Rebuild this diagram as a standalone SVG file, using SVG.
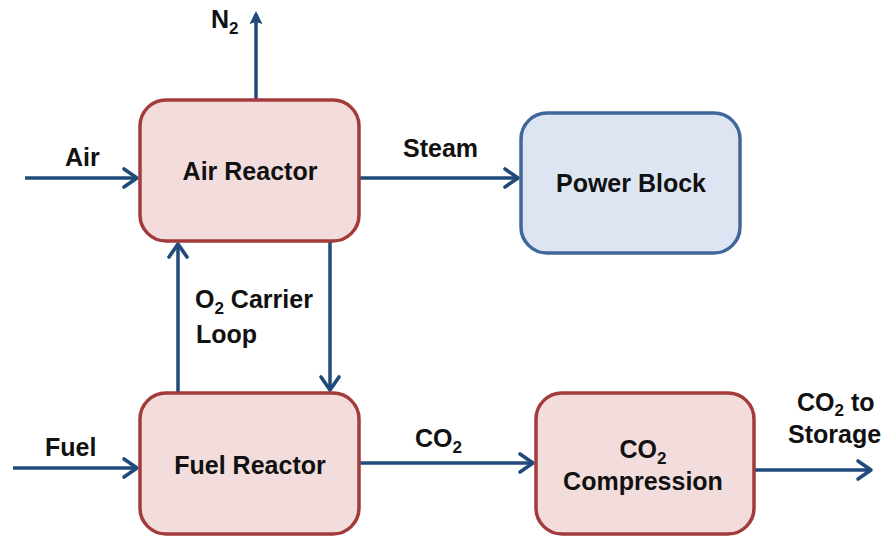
<svg xmlns="http://www.w3.org/2000/svg" width="883" height="536" viewBox="0 0 883 536">
<defs>
<marker id="ah" viewBox="-3 -3 20 24" refX="14" refY="9" markerWidth="20" markerHeight="24" markerUnits="userSpaceOnUse" orient="auto">
<path d="M1,0 L14,9 L1,18" fill="none" stroke="#1f4a7a" stroke-width="3.6" stroke-linecap="round" stroke-linejoin="round"/>
</marker>
<marker id="ahs" viewBox="0 0 14 14" refX="10" refY="7" markerWidth="14" markerHeight="14" markerUnits="userSpaceOnUse" orient="auto">
<path d="M0,0.5 L13,7 L0,13.5 L2,7 Z" fill="#1f4a7a"/>
</marker>
</defs>
<style>
.red{fill:#f2dcdc;stroke:#a33b3b;stroke-width:3.5}
.blue{fill:#dce5f1;stroke:#41679a;stroke-width:3.5}
.t{font-family:"Liberation Sans",Arial,sans-serif;font-weight:bold;font-size:25px;fill:#111}
.s{font-size:17px}
.c{stroke:#1f4a7a;stroke-width:3.5;fill:none}
</style>
<rect width="883" height="536" fill="#fff"/>
<g id="connectors">
<line class="c" x1="256" y1="100" x2="256" y2="14" marker-end="url(#ahs)"/>
<line class="c" x1="25" y1="178" x2="137" y2="178" marker-end="url(#ah)"/>
<line class="c" x1="359" y1="178" x2="518" y2="178" marker-end="url(#ah)"/>
<line class="c" x1="178" y1="393" x2="178" y2="244" marker-end="url(#ah)"/>
<line class="c" x1="330" y1="241" x2="330" y2="390" marker-end="url(#ah)"/>
<line class="c" x1="13" y1="468" x2="137" y2="468" marker-end="url(#ah)"/>
<line class="c" x1="359" y1="463" x2="533" y2="463" marker-end="url(#ah)"/>
<line class="c" x1="754" y1="470" x2="871" y2="470" marker-end="url(#ah)"/>
</g>
<g id="labels">
<text class="t" x="211" y="28">N<tspan class="s" dy="6">2</tspan></text>
<text class="t" x="65" y="166">Air</text>
<text class="t" x="403" y="157">Steam</text>
<text class="t" x="195" y="308">O<tspan class="s" dy="6">2</tspan><tspan dy="-6"> Carrier</tspan></text>
<text class="t" x="196" y="343">Loop</text>
<text class="t" x="45" y="456">Fuel</text>
<text class="t" x="415" y="447">CO<tspan class="s" dy="6">2</tspan></text>
<text class="t" x="797" y="411">CO<tspan class="s" dy="5">2</tspan><tspan dy="-5"> to</tspan></text>
<text class="t" x="788" y="443">Storage</text>
</g>
<g id="air-reactor">
<rect class="red" x="140" y="100" width="219" height="141" rx="26"/>
<text class="t" x="250" y="180" text-anchor="middle">Air Reactor</text>
</g>
<g id="power-block">
<rect class="blue" x="521" y="113" width="219" height="140" rx="26"/>
<text class="t" x="631" y="192" text-anchor="middle">Power Block</text>
</g>
<g id="fuel-reactor">
<rect class="red" x="140" y="393" width="219" height="141" rx="26"/>
<text class="t" x="250" y="474" text-anchor="middle">Fuel Reactor</text>
</g>
<g id="co2-compression">
<rect class="red" x="536" y="393" width="218" height="141" rx="26"/>
<text class="t" x="643" y="458" text-anchor="middle">CO<tspan class="s" dy="6">2</tspan></text>
<text class="t" x="643" y="490" text-anchor="middle">Compression</text>
</g>
</svg>
